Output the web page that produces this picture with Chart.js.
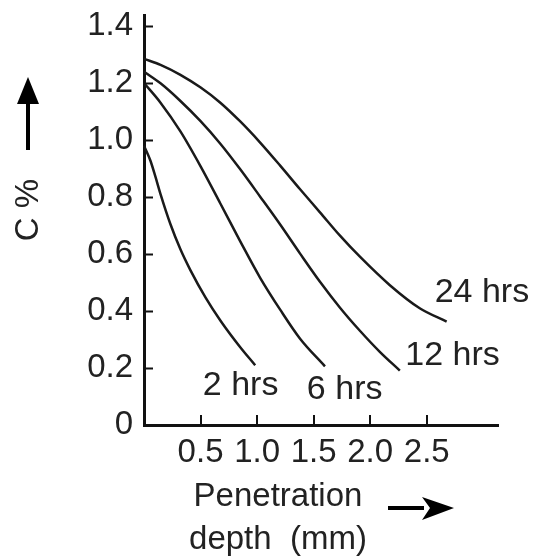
<!DOCTYPE html>
<html>
<head>
<meta charset="utf-8">
<title>Carbon vs penetration depth</title>
<script src="https://cdn.jsdelivr.net/npm/chart.js@4.4.0/dist/chart.umd.min.js"></script>
<style>
  html, body { margin: 0; padding: 0; background: #fff; }
  canvas { display: block; }
</style>
</head>
<body>
<canvas id="depthChart" width="536" height="556"></canvas>
<script>
// values: depth (mm) and C %
const depth2h  = [0, 0.057, 0.101, 0.146, 0.234, 0.322, 0.41, 0.542, 0.675, 0.851, 0.983];
const carbon2h = [0.981, 0.928, 0.872, 0.811, 0.705, 0.617, 0.544, 0.449, 0.367, 0.273, 0.21];

const depth6h  = [0, 0.146, 0.322, 0.498, 0.675, 0.851, 1.027, 1.204, 1.38, 1.6];
const carbon6h = [1.201, 1.132, 1.031, 0.91, 0.778, 0.645, 0.517, 0.405, 0.303, 0.206];

const depth12h  = [0, 0.146, 0.322, 0.498, 0.675, 0.851, 1.027, 1.204, 1.38, 1.556, 1.733, 1.909, 2.085, 2.262];
const carbon12h = [1.241, 1.2, 1.138, 1.068, 0.988, 0.898, 0.802, 0.704, 0.602, 0.503, 0.412, 0.331, 0.257, 0.191];

const depth24h  = [0, 0.146, 0.322, 0.498, 0.675, 0.851, 1.027, 1.204, 1.38, 1.556, 1.733, 1.909, 2.174, 2.438, 2.676];
const carbon24h = [1.286, 1.265, 1.23, 1.186, 1.132, 1.066, 0.992, 0.911, 0.828, 0.747, 0.665, 0.591, 0.491, 0.41, 0.363];

const curveNames = ['2 hrs', '6 hrs', '12 hrs', '24 hrs'];

const xTicks = [0.5, 1.0, 1.5, 2.0, 2.5];
const yTicks = [0, 0.2, 0.4, 0.6, 0.8, 1.0, 1.2, 1.4];
const yTickLabels = ['0', '0.2', '0.4', '0.6', '0.8', '1.0', '1.2', '1.4'];

const ink = '#222';
const font = 'Liberation Sans, Arial, sans-serif';

function pairs(xs, ys) {
  return xs.map((x, i) => ({ x: x, y: ys[i] }));
}

function curve(label, xs, ys) {
  return {
    label: label,
    data: pairs(xs, ys),
    showLine: true,
    borderColor: '#1a1a1a',
    borderWidth: 2.5,
    pointRadius: 0,
    cubicInterpolationMode: 'monotone',
    clip: false
  };
}

// where each curve name sits, in data units (left edge, middle)
const labelAnchors = [[0.52, 0.14], [1.44, 0.125], [2.31, 0.244], [2.57, 0.465]];

const decor = {
  id: 'decor',
  afterDraw(chart) {
    const ctx = chart.ctx;
    const a = chart.chartArea;
    const xs = chart.scales.x, ys = chart.scales.y;
    ctx.save();

    // tick marks pointing into the plot
    ctx.strokeStyle = '#111';
    ctx.lineWidth = 2;
    yTicks.forEach(v => {
      if (v === 0) return;
      const py = Math.round(ys.getPixelForValue(v)) + 0.5;
      ctx.beginPath(); ctx.moveTo(a.left, py); ctx.lineTo(a.left + 9, py); ctx.stroke();
    });
    xTicks.forEach(v => {
      const px = Math.round(xs.getPixelForValue(v));
      ctx.beginPath(); ctx.moveTo(px, a.bottom); ctx.lineTo(px, a.bottom - 10); ctx.stroke();
    });

    // curve names
    ctx.fillStyle = ink;
    ctx.font = '34px ' + font;
    ctx.textAlign = 'left';
    ctx.textBaseline = 'middle';
    curveNames.forEach((name, i) => {
      ctx.fillText(name, xs.getPixelForValue(labelAnchors[i][0]), ys.getPixelForValue(labelAnchors[i][1]));
    });

    // x caption + arrow
    ctx.font = '33px ' + font;
    ctx.textAlign = 'center';
    ctx.fillText('Penetration', 278, 497);
    ctx.fillText('depth  (mm)', 278, 540);
    ctx.fillStyle = '#000';
    ctx.fillRect(388, 506, 36, 4);
    ctx.beginPath();
    ctx.moveTo(454, 508); ctx.lineTo(422, 497); ctx.lineTo(430, 508); ctx.lineTo(422, 520);
    ctx.closePath(); ctx.fill();

    // y caption + arrow
    ctx.fillStyle = ink;
    ctx.save();
    ctx.translate(29, 210);
    ctx.rotate(-Math.PI / 2);
    ctx.fillText('C %', 0, 0);
    ctx.restore();
    ctx.fillStyle = '#000';
    ctx.fillRect(26, 100, 4, 50);
    ctx.beginPath();
    ctx.moveTo(28, 77); ctx.lineTo(17, 104); ctx.lineTo(39, 104);
    ctx.closePath(); ctx.fill();

    ctx.restore();
  }
};

new Chart(document.getElementById('depthChart').getContext('2d'), {
  type: 'scatter',
  data: {
    datasets: [
      curve(curveNames[0], depth2h, carbon2h),
      curve(curveNames[1], depth6h, carbon6h),
      curve(curveNames[2], depth12h, carbon12h),
      curve(curveNames[3], depth24h, carbon24h)
    ]
  },
  options: {
    responsive: false,
    animation: false,
    layout: { padding: { left: 0, top: 15, right: 38, bottom: 0 } },
    plugins: {
      legend: { display: false },
      tooltip: { enabled: false }
    },
    scales: {
      x: {
        type: 'linear',
        min: 0,
        max: 3.13,
        afterBuildTicks: s => { s.ticks = xTicks.map(v => ({ value: v })); },
        afterFit: s => { s.height = 131; s.paddingLeft = 0; s.paddingRight = 0; },
        grid: { display: true, drawOnChartArea: false, drawTicks: false },
        border: { display: true, color: '#111', width: 3 },
        ticks: {
          color: ink,
          padding: 8,
          maxRotation: 0,
          autoSkip: false,
          font: { family: font, size: 33 },
          callback: v => v.toFixed(1)
        }
      },
      y: {
        type: 'linear',
        min: 0,
        max: 1.44,
        afterBuildTicks: s => { s.ticks = yTicks.map(v => ({ value: v })); },
        afterFit: s => { s.width = 144; s.paddingTop = 0; s.paddingBottom = 0; },
        grid: { display: true, drawOnChartArea: false, drawTicks: false },
        border: { display: true, color: '#111', width: 3 },
        ticks: {
          color: ink,
          padding: 11,
          autoSkip: false,
          font: { family: font, size: 33 },
          callback: v => yTickLabels[yTicks.findIndex(t => Math.abs(t - v) < 1e-6)]
        }
      }
    }
  },
  plugins: [decor]
});
</script>
</body>
</html>
